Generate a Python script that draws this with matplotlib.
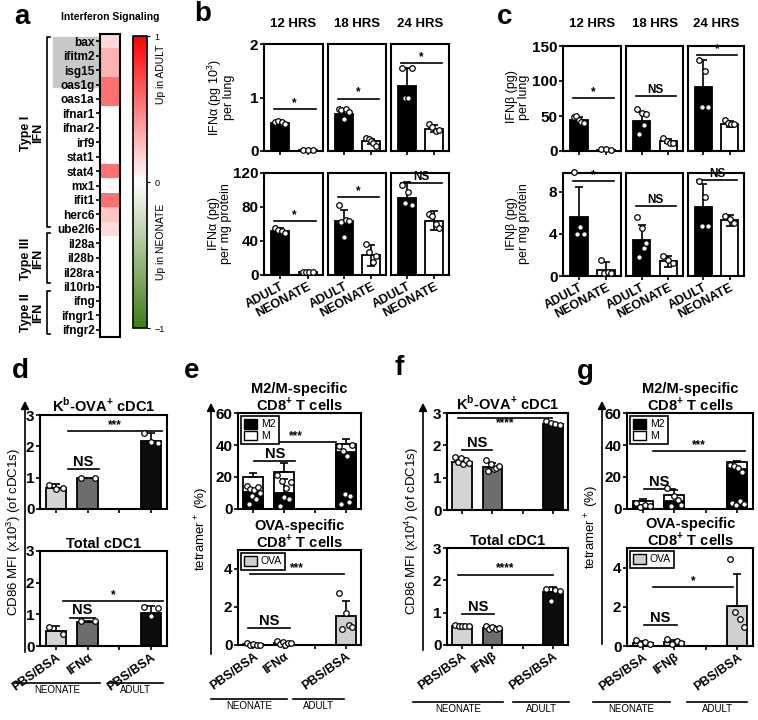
import numpy as np
import matplotlib.pyplot as plt
from matplotlib.colors import LinearSegmentedColormap
from matplotlib.patches import Rectangle, Patch, FancyArrowPatch
from matplotlib.lines import Line2D

plt.rcParams['font.family'] = ['Liberation Sans', 'DejaVu Sans']
plt.rcParams['mathtext.fontset'] = 'custom'
plt.rcParams['mathtext.rm'] = 'Liberation Sans'
plt.rcParams['mathtext.bf'] = 'Liberation Sans:bold'

# ---- a: interferon signaling heatmap
genes = ['bax', 'ifitm2', 'isg15', 'oas1g', 'oas1a', 'ifnar1', 'ifnar2', 'irf9', 'stat1',
         'stat4', 'mx1', 'ifit1', 'herc6', 'ube2l6', 'il28a', 'il28b', 'il28ra', 'il10rb',
         'ifng', 'ifngr1', 'ifngr2']
fold = [0.15, 0.30, 0.30, 0.55, 0.55, 0, 0, 0, 0, 0.55, 0, 0.55, 0.22, 0.14,
        0, 0, 0, 0, 0, 0, 0]

# ---- b: IFN-alpha, c: IFN-beta  ([adult, neonate] per time point)
hours = ['12 HRS', '18 HRS', '24 HRS']
ages = ['ADULT', 'NEONATE']
b_lung_mean = [[0.52, 0.02], [0.70, 0.18], [1.22, 0.42]]
b_lung_sd = [[0.03, 0.01], [0.08, 0.05], [0.33, 0.07]]
b_lung_pts = [[[0.55, 0.56, 0.54, 0.50], [0.02, 0.02, 0.02]],
              [[0.78, 0.77, 0.60, 0.79, 0.72], [0.25, 0.22, 0.18, 0.15, 0.10]],
              [[1.55, 1.00, 1.00, 1.55], [0.50, 0.45, 0.38, 0.40]]]
b_lung_sig = [(0.78, '*'), (0.98, '*'), (1.65, '*')]
b_prot_mean = [[52, 3], [63, 23], [91, 64]]
b_prot_sd = [[3, 1], [14, 12], [18, 11]]
b_prot_pts = [[[55, 53, 52, 50], [3, 4, 4, 3]],
              [[82, 62, 45, 65, 63], [37, 27, 15, 22]],
              [[106, 85, 98, 82], [72, 69, 60, 55]]]
b_prot_sig = [(63, '*'), (92, '*'), (108, 'NS')]

c_lung_mean = [[44, 2], [43, 14], [92, 39]]
c_lung_sd = [[5, 1], [13, 3], [38, 4]]
c_lung_pts = [[[48, 50, 45, 42, 40], [3, 3, 2]],
              [[60, 24, 54, 37, 53], [18, 15, 12, 12]],
              [[130, 63, 114, 63], [44, 40, 38, 38]]]
c_lung_sig = [(76, '*'), (78, 'NS'), (137, '*')]
c_prot_mean = [[5.6, 0.6], [3.4, 1.4], [6.6, 5.3]]
c_prot_sd = [[2.9, 0.7], [1.5, 0.5], [2.2, 0.5]]
c_prot_pts = [[[9.9, 4.0, 4.7, 4.0], [1.5, 0.3, 0.4, 0.3]],
              [[5.6, 1.8, 4.6, 2.7, 3.1], [1.9, 1.5, 1.2]],
              [[9.0, 4.8, 7.5, 4.8], [5.7, 5.4, 5.0]]]
c_prot_sig = [(9.0, '*'), (6.7, 'NS'), (9.1, 'NS')]

# ---- d-g: conditions (NEONATE PBS/BSA, NEONATE IFN, ADULT PBS/BSA)
conds_a = ['PBS/BSA', 'IFNα', '', 'PBS/BSA']
conds_b = ['PBS/BSA', 'IFNβ', '', 'PBS/BSA']

d_kb_mean = [0.68, 0.98, 2.17]
d_kb_err = [0.12, 0.01, 0.26]
d_kb_pts = [[0.77, 0.64, 0.66], [0.99, 0.99], [2.42, 2.13, 2.12]]
d_kb_sig = [(0.38, 1.36, 1.29, 'NS'), (0.38, 3.34, 2.5, '***')]
d_tot_mean = [0.48, 0.77, 1.05]
d_tot_err = [0.15, 0.01, 0.2]
d_tot_pts = [[0.61, 0.38], [0.78, 0.78], [1.22, 0.96, 1.19]]
d_tot_sig = [(0.45, 1.23, 0.9, 'NS'), (0.22, 3.37, 1.43, '*')]

e_tet_total = [19.8, 23.3, 40.6]
e_tet_m2 = [10.4, 9.8, 35.4]
e_tet_err = [2.5, 5.4, 3.1]
e_m2_err = [2.0, 8.9, 0.0]
e_tet_pts = [[14.6, 3.1, 12.5, 8.3, 11.9, 6.3, 13.5, 10],
             [21, 2.1, 17.7, 7.3, 12.9, 6, 17],
             [39.6, 3.1, 36.5, 9.4, 33.3, 4.2, 8.3, 40]]
e_tet_sig = [(0.03, 1.36, 30, 'NS'), (0.04, 2.7, 42, '***')]
e_ova_mean = [0.05, 0.1, 1.53]
e_ova_err = [0.03, 0.05, 0.8]
e_ova_pts = [[0.1, 0.0, 0.05, 0.02, 0.0], [0.22, 0.05, 0.15, 0.0, 0.12, 0.08],
             [2.75, 0.82, 1.7, 1.05, 0.96]]
e_ova_sig = [(-0.17, 1.2, 0.88, 'NS'), (-0.1, 2.96, 3.74, '***')]

f_kb_mean = [1.5, 1.32, 2.65]
f_kb_err = [0.1, 0.13, 0.05]
f_kb_pts = [[1.65, 1.5, 1.6, 1.42, 1.55, 1.45], [1.56, 1.2, 1.43, 1.26, 1.3, 1.35],
            [2.76, 2.7, 2.66, 2.64]]
f_kb_sig = [(0, 1, 1.86, 'NS'), (-0.13, 2.97, 2.86, '****')]
f_tot_mean = [0.6, 0.52, 1.64]
f_tot_err = [0.03, 0.06, 0.15]
f_tot_pts = [[0.62, 0.58, 0.6, 0.6, 0.58], [0.58, 0.48, 0.55, 0.5, 0.52],
             [1.72, 1.37, 1.7, 1.68]]
f_tot_sig = [(0, 1.05, 0.97, 'NS'), (-0.13, 3.0, 2.18, '****')]

g_tet_total = [4.8, 8.9, 29.2]
g_tet_m2 = [2.5, 5.0, 24.8]
g_tet_err = [1.4, 3.1, 1.0]
g_m2_err = [0.0, 0.0, 0.0]
g_tet_pts = [[3.7, 1.0, 2.7, 1.7], [13, 2, 7.9, 5.8, 2.7],
             [27.5, 3.7, 26.9, 2.7, 25.5, 4.8, 23.4, 3.2]]
g_tet_sig = [(0.04, 1.02, 12.8, 'NS'), (0.33, 3.24, 36.2, '***')]
g_ova_mean = [0.15, 0.18, 2.05]
g_ova_err = [0.08, 0.12, 1.6]
g_ova_pts = [[0.3, 0.08, 0.18, 0.12], [0.35, 0.1, 0.25, 0.15], [4.45, 1.75, 1.4, 0.95]]
g_ova_sig = [(0.04, 1.09, 1.07, 'NS'), (0.33, 2.87, 3.0, '*')]

W, H = 758, 720
fig = plt.figure(figsize=(W / 100, H / 100), dpi=100)


def box(x0, y0, x1, y1):
    return fig.add_axes([x0 / W, 1 - y1 / H, (x1 - x0) / W, (y1 - y0) / H])


def ftext(x, y, s, **kw):
    fig.text(x / W, 1 - y / H, s, **kw)


def fline(xs, ys, **kw):
    fig.add_artist(Line2D([x / W for x in xs], [1 - y / H for y in ys],
                          color='black', lw=1.2, **kw))


def style(ax, lw=1.5):
    for s in ax.spines.values():
        s.set_linewidth(lw)
    ax.tick_params(width=1.2, length=3, pad=1)


def dots(ax, x, vals, spread=0.18):
    xs = x + np.linspace(-spread, spread, len(vals)) if len(vals) > 1 else [x]
    ax.plot(xs, vals, 'o', ms=4, mfc='white', mec='black', mew=0.9, zorder=5, clip_on=False)


# ================= a =================
ax = box(100, 34, 120, 337)
cmap = LinearSegmentedColormap.from_list('gwr', ['#3f7d12', '#ffffff', '#ff0000'])
im = ax.imshow(np.array(fold)[:, None], cmap=cmap, vmin=-1, vmax=1, aspect='auto')
ax.set_xticks([])
ax.set_yticks(range(len(genes)))
ax.set_yticklabels(genes, fontweight='bold', fontsize=8.5)
ax.tick_params(length=0, pad=3)
style(ax, 1.5)
fig.add_artist(Rectangle((53 / W, 1 - 87 / H), 45 / W, 50 / H, transform=fig.transFigure,
                         color='#c8c8c8', zorder=-1))
cax = box(133, 36, 147, 328)
cb = fig.colorbar(im, cax=cax, ticks=[-1, 0, 1])
cb.ax.tick_params(labelsize=6.5, length=2, width=0.8)
cb.outline.set_linewidth(1.2)
ftext(161, 74, 'Up in ADULT', rotation=90, ha='center', va='center', fontsize=7.5)
ftext(161, 242, 'Up in NEONATE', rotation=90, ha='center', va='center', fontsize=7.5)
ftext(110, 17, 'Interferon Signaling', ha='center', va='center', fontweight='bold', fontsize=7.5)
for (y0, y1, lab, yc) in [(37, 227, 'Type I\nIFN', 133), (233, 283, 'Type III\nIFN', 259),
                          (291, 334, 'Type II\nIFN', 313)]:
    fline([50, 47, 47, 50], [y0, y0, y1, y1])
    ftext(32, yc, lab, rotation=90, ha='center', va='center', fontweight='bold',
          fontsize=9, linespacing=0.95)


# ================= b / c =================
def pair_panel(ax, means, sds, pts, sig, ylim, yticks, first, bottom):
    for i in range(2):
        ax.bar(i, means[i], 0.65, color=['black', 'white'][i], edgecolor='black', lw=1.3, zorder=2)
        ax.errorbar(i, means[i], yerr=sds[i], fmt='none', ecolor='black', capsize=3,
                    elinewidth=1.2, capthick=1.2, zorder=3)
        dots(ax, i, pts[i])
    ax.plot([-0.22, 1.28], [sig[0], sig[0]], color='black', lw=1.2)
    ax.text(0.53, sig[0], sig[1], ha='center', va='bottom', fontweight='bold', fontsize=8.5)
    ax.set_xlim(-0.58, 1.55)
    ax.set_ylim(*ylim)
    ax.set_xticks([0, 1])
    if first:
        ax.set_yticks(yticks)
        ax.set_yticklabels([str(t) for t in yticks], fontweight='bold', fontsize=11)
    else:
        ax.set_yticks([])
    if bottom:
        ax.set_xticklabels(ages, rotation=28, ha='right', rotation_mode='anchor',
                           fontweight='bold', fontsize=9)
    else:
        ax.set_xticklabels([])
    style(ax)


b_cols = [(264, 323), (328, 386), (391, 449)]
c_cols = [(563, 621), (626, 683), (688, 744)]
for k in range(3):
    x0, x1 = b_cols[k]
    pair_panel(box(x0, 44, x1, 151), b_lung_mean[k], b_lung_sd[k], b_lung_pts[k], b_lung_sig[k],
               (0, 2), [0, 1, 2], k == 0, False)
    pair_panel(box(x0, 173, x1, 275), b_prot_mean[k], b_prot_sd[k], b_prot_pts[k], b_prot_sig[k],
               (0, 120), [0, 40, 80, 120], k == 0, True)
    ftext((x0 + x1) / 2, 24, hours[k], ha='center', va='center', fontweight='bold', fontsize=9.5)
    x0, x1 = c_cols[k]
    pair_panel(box(x0, 46, x1, 151), c_lung_mean[k], c_lung_sd[k], c_lung_pts[k], c_lung_sig[k],
               (0, 150), [0, 50, 100, 150], k == 0, False)
    pair_panel(box(x0, 173, x1, 276), c_prot_mean[k], c_prot_sd[k], c_prot_pts[k], c_prot_sig[k],
               (0, 9.8), [0, 4, 8], k == 0, True)
    ftext((x0 + x1) / 2, 24, hours[k], ha='center', va='center', fontweight='bold', fontsize=9.5)

ylab_kw = dict(rotation=90, ha='center', va='center', fontsize=9, linespacing=0.9)
ftext(220, 97, 'IFNα (pg 10$^3$)\nper lung', **ylab_kw)
ftext(220, 224, 'IFNα (pg)\nper mg protein', **ylab_kw)
ftext(518, 97, 'IFNβ (pg)\nper lung', **ylab_kw)
ftext(518, 224, 'IFNβ (pg)\nper mg protein', **ylab_kw)


# ================= d - g =================
pos = [0, 1, 3]
gray_cols = ['#d4d4d4', '#6d6d6d', '#0d0d0d']


def cond_panel(ax, means, errs, pts, colors, sigs, ylim, yticks, title, labels=None,
               m2=None, m2err=None, legend=None, star_below=False):
    for k, p in enumerate(pos):
        ax.bar(p, means[k], 0.65, color=colors[k], edgecolor='black', lw=1.3, zorder=2)
        ax.errorbar(p, means[k], yerr=[[0], [errs[k]]], fmt='none', ecolor='black', capsize=3,
                    elinewidth=1.2, capthick=1.2, zorder=3)
        if m2 is not None:
            ax.bar(p, m2[k], 0.65, color='black', edgecolor='black', lw=1.3, zorder=2)
            if m2err[k] > 0:
                ax.errorbar(p, m2[k], yerr=[[0], [m2err[k]]], fmt='none', ecolor='black',
                            capsize=3, elinewidth=1.2, capthick=1.2, zorder=3)
        dots(ax, p, pts[k], 0.22)
    for (a, b, y, t) in sigs:
        ax.plot([a, b], [y, y], color='black', lw=1.2)
        below = star_below and t != 'NS'
        ax.text((a + b) / 2, y, t, ha='center', va='top' if below else 'bottom',
                fontweight='bold', fontsize=10.5 if t == 'NS' else 8.5)
    ax.set_xlim(-0.5, 3.5)
    ax.set_ylim(*ylim)
    ax.set_xticks([0, 1, 2, 3])
    ax.set_yticks(yticks)
    ax.set_yticklabels([str(t) for t in yticks], fontweight='bold', fontsize=11)
    if labels:
        ax.set_xticklabels(labels, rotation=35, ha='right', rotation_mode='anchor',
                           fontweight='bold', fontsize=9)
    else:
        ax.set_xticklabels([])
    ax.set_title(title, fontweight='bold', fontsize=10.5, pad=1.5, linespacing=0.95)
    if legend:
        lg = ax.legend(handles=legend, loc='upper left', fontsize=7.5, fancybox=False,
                       edgecolor='black', framealpha=1, handlelength=1.2, handleheight=1.0,
                       borderpad=0.3, labelspacing=0.1, handletextpad=0.4, borderaxespad=0.3)
        lg.get_frame().set_linewidth(1.2)
    style(ax)


def side_axis(x, ytop, ybot, xl, yl, label, rows):
    fig.add_artist(FancyArrowPatch((x / W, 1 - ybot / H), (x / W, 1 - ytop / H),
                                   transform=fig.transFigure, arrowstyle='-|>',
                                   mutation_scale=12, lw=1.2, color='black'))
    ftext(xl, yl, label, rotation=90, ha='center', va='center', fontsize=9.5)
    (n0, n1), (a0, a1), ly = rows
    fline([n0, n1], [ly, ly])
    fline([a0, a1], [ly, ly])
    ftext((n0 + n1) / 2, ly + 7, 'NEONATE', ha='center', va='center', fontsize=7)
    ftext((a0 + a1) / 2, ly + 7, 'ADULT', ha='center', va='center', fontsize=7)


kb_title = 'K$^\\mathbf{b}$-OVA$^\\mathbf{+}$ cDC1'
tet_title = 'M2/M-specific\nCD8$^\\mathbf{+}$ T cells'
ova_title = 'OVA-specific\nCD8$^\\mathbf{+}$ T cells'
leg_m = [Patch(fc='black', ec='black', label='M2'), Patch(fc='white', ec='black', label='M')]
leg_o = [Patch(fc='#cfcfcf', ec='black', label='OVA')]

cond_panel(box(40, 415, 167, 509), d_kb_mean, d_kb_err, d_kb_pts, gray_cols, d_kb_sig,
           (0, 3), [0, 1, 2, 3], kb_title)
cond_panel(box(40, 551, 167, 646), d_tot_mean, d_tot_err, d_tot_pts, gray_cols, d_tot_sig,
           (0, 3), [0, 1, 2, 3], 'Total cDC1', conds_a)
side_axis(25, 398, 655, 14, 532, 'CD86 MFI (x10$^3$) (of cDC1s)', ((14, 100), (108, 163), 683))

cond_panel(box(238, 413, 361, 509), e_tet_total, e_tet_err, e_tet_pts, ['white'] * 3, e_tet_sig,
           (0, 60), [0, 20, 40, 60], tet_title, m2=e_tet_m2, m2err=e_m2_err, legend=leg_m)
cond_panel(box(238, 550, 361, 645), e_ova_mean, e_ova_err, e_ova_pts, ['#cfcfcf'] * 3, e_ova_sig,
           (0, 5), [0, 2, 4], ova_title, conds_a, legend=leg_o)
side_axis(211, 400, 657, 202, 529, 'tetramer$^+$ (%)', ((211, 287), (293, 344), 699))

cond_panel(box(447, 413, 568, 510), f_kb_mean, f_kb_err, f_kb_pts, gray_cols, f_kb_sig,
           (0, 3), [0, 1, 2, 3], kb_title, star_below=True)
cond_panel(box(447, 548, 568, 645), f_tot_mean, f_tot_err, f_tot_pts, gray_cols, f_tot_sig,
           (0, 3), [0, 1, 2, 3], 'Total cDC1', conds_b)
side_axis(423, 400, 653, 412, 531, 'CD86 MFI (x10$^4$) (of cDC1s)', ((413, 503), (513, 569), 702))

cond_panel(box(627, 413, 753, 509), g_tet_total, g_tet_err, g_tet_pts, ['white'] * 3, g_tet_sig,
           (0, 60), [0, 20, 40, 60], tet_title, m2=g_tet_m2, m2err=g_m2_err, legend=leg_m)
cond_panel(box(627, 548, 753, 646), g_ova_mean, g_ova_err, g_ova_pts, ['#cfcfcf'] * 3, g_ova_sig,
           (0, 5), [0, 2, 4], ova_title, conds_b, legend=leg_o)
side_axis(602, 398, 647, 592, 527, 'tetramer$^+$ (%)', ((593, 670), (687, 747), 702))

# panel letters
for lt, x, y in [('a', 22, 17), ('b', 203, 14), ('c', 505, 17), ('d', 20, 371),
                 ('e', 192, 371), ('f', 399, 368), ('g', 585, 372)]:
    ftext(x, y, lt, ha='center', va='center', fontweight='bold', fontsize=20)

fig.savefig('out.png', dpi=100)
